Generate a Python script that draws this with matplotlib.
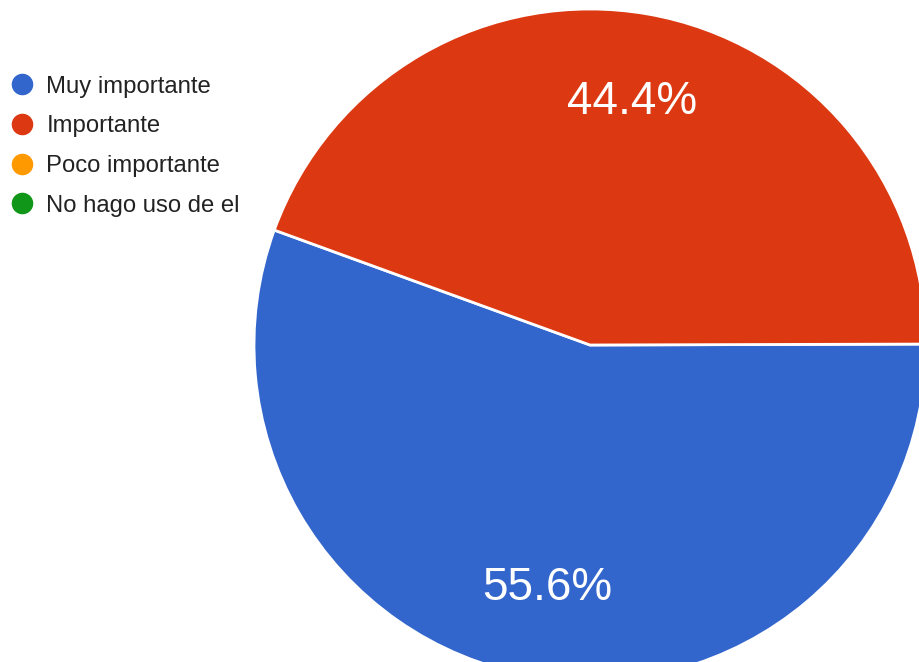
import matplotlib.pyplot as plt
from matplotlib.lines import Line2D

# survey answers
labels = ['Muy importante', 'Importante', 'Poco importante', 'No hago uso de el']
shares = [55.6, 44.4, 0.0, 0.0]
colors = ['#3366cc', '#dc3912', '#ff9900', '#109618']

plt.rcParams['font.family'] = ['Liberation Sans', 'DejaVu Sans']

fig = plt.figure(figsize=(9.19, 6.62), dpi=100)
ax = fig.add_axes([0, 0, 1, 1])

# only the non-empty slices get a wedge
vals = [v for v in shares if v > 0]
cols = [c for v, c in zip(shares, colors) if v > 0]
wedges, texts, autotexts = ax.pie(vals, colors=cols, startangle=160, counterclock=True,
                                  center=(590, 317), radius=336, frame=True,
                                  autopct='%.1f%%', pctdistance=0.735,
                                  wedgeprops=dict(edgecolor='white', linewidth=2),
                                  textprops=dict(color='white', fontsize=33))
ax.set_xlim(0, 919)
ax.set_ylim(0, 662)
ax.set_aspect('equal')
ax.axis('off')

handles = [Line2D([], [], marker='o', linestyle='', markersize=14.5,
                  markerfacecolor=c, markeredgecolor=c) for c in colors]
fig.legend(handles, labels, loc='upper left', bbox_to_anchor=(-0.012, 0.918),
           frameon=False, fontsize=17.2, labelspacing=0.74, handletextpad=0.5,
           handlelength=1.0, labelcolor='#222222')

fig.savefig('out.png', dpi=100)
